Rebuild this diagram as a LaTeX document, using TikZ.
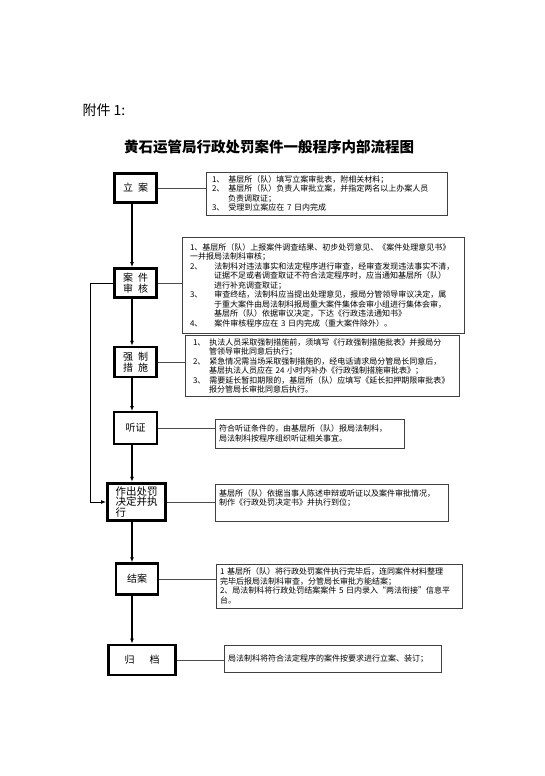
\documentclass[tikz,border=0pt]{standalone}
\usepackage{fontspec}
\setmainfont{Noto Sans CJK SC}
\usepackage{xcolor}
\usetikzlibrary{arrows.meta, positioning, calc}
\newcommand{\indnt}{\hspace*{2em}}
\newcommand{\indnw}{\hspace*{3em}}
\tikzset{
    stage/.style={rectangle, draw=black, line width=2.8pt, fill=white,
                  inner sep=2pt, align=center, font=\fontsize{10}{10.5}\selectfont},
    note/.style={rectangle, draw=black!75, line width=0.7pt, fill=white,
                 inner xsep=4pt, inner ysep=3pt, align=left,
                 font=\fontsize{8}{9.5}\selectfont},
    arrow/.style={-{Latex[length=5pt, width=4pt]}, line width=1.2pt, draw=black},
    link/.style={line width=0.7pt, draw=black!70}
}

\begin{document}
\begin{tikzpicture}[x=1pt, y=-1pt]
  \path[use as bounding box, fill=white] (0,0) rectangle (544,776);

  % --- Heading ---
  \node[anchor=west, font=\fontsize{14}{16}\selectfont] (annex) at (79,110) {附件 1:};
  \node[font=\fontsize{14.5}{16}\selectfont\bfseries] (title) at (269,147)
        {黄石运管局行政处罚案件一般程序内部流程图};

  % --- Stages (left column) ---
  \coordinate (trunk) at (132,0);
  \node[stage, minimum width=42pt, minimum height=29pt] (lian) at (135.5,188)
        {立\hspace{0.5em}案};
  \node[stage, minimum width=42pt, minimum height=29pt] (shenhe) at (135.5,283)
        {案\hspace{0.5em}件\\审\hspace{0.5em}核};
  \node[stage, line width=2.5pt, minimum width=42pt, minimum height=30pt] (qiangzhi) at (135.5,362)
        {强\hspace{0.5em}制\\措\hspace{0.5em}施};
  \node[stage, line width=2pt, minimum width=43pt, minimum height=32pt] (tingzheng) at (135.5,428)
        {听证};
  \node[stage, minimum width=58pt, minimum height=37pt, inner ysep=3.5pt, align=left,
        font=\fontsize{10.5}{10.5}\selectfont] (zuochu) at (136.5,502)
        {作出处罚\\决定并执\\行};
  \node[stage, line width=2.5pt, minimum width=42pt, minimum height=31pt] (jiean) at (137,579)
        {结案};
  \node[stage, minimum width=67pt, minimum height=30pt] (guidang) at (142,660)
        {归\hspace{1.5em}档};

  % --- Notes (right column) ---
  \node[note, inner xsep=6pt, text width=229pt, minimum height=43pt] (n1) at (326.5,193.5)
        {1、\hspace{0.5em}基层所（队）填写立案审批表，附相关材料；\\
         2、\hspace{0.5em}基层所（队）负责人审批立案，并指定两名以上办案人员\\
         \indnt 负责调取证；\\
         3、\hspace{0.5em}受理到立案应在 7 日内完成};
  \node[note, inner xsep=8pt, text width=266pt, minimum height=96pt] (n2) at (323,285)
        {1、基层所（队）上报案件调查结果、初步处罚意见、《案件处理意见书》\\
         一并报局法制科审核；\\
         2、\hspace{1.5em}法制科对违法事实和法定程序进行审查，经审查发现违法事实不清，\\
         \indnw 证据不足或者调查取证不符合法定程序时，应当通知基层所（队）\\
         \indnw 进行补充调查取证；\\
         3、\hspace{1.5em}审查终结，法制科应当提出处理意见，报局分管领导审议决定，属\\
         \indnw 于重大案件由局法制科报局重大案件集体会审小组进行集体会审，\\
         \indnw 基层所（队）依据审议决定，下达《行政违法通知书》\\
         4、\hspace{1.5em}案件审核程序应在 3 日内完成（重大案件除外）。};
  \node[note, inner xsep=8pt, text width=258pt, minimum height=58pt] (n3) at (322,366)
        {1、\hspace{0.5em}执法人员采取强制措施前，须填写《行政强制措施批表》并报局分\\
         \indnt 管领导审批同意后执行；\\
         2、\hspace{0.5em}紧急情况需当场采取强制措施的，经电话请求局分管局长同意后，\\
         \indnt 基层执法人员应在 24 小时内补办《行政强制措施审批表》；\\
         3、\hspace{0.5em}需要延长暂扣期限的，基层所（队）应填写《延长扣押期限审批表》\\
         \indnt 报分管局长审批同意后执行。};
  \node[note, text width=181pt, minimum height=29pt] (n4) at (309.5,433.5)
        {符合听证条件的，由基层所（队）报局法制科，\\
         局法制科按程序组织听证相关事宜。};
  \node[note, text width=225pt, minimum height=37pt] (n5) at (331.5,502.5)
        {基层所（队）依据当事人陈述申辩或听证以及案件审批情况，\\
         制作《行政处罚决定书》并执行到位；\\ \mbox{}};
  \node[note, text width=238pt, minimum height=44pt] (n6) at (339,586)
        {1 基层所（队）将行政处罚案件执行完毕后，连同案件材料整理\\
         完毕后报局法制科审查，分管局长审批方能结案；\\
         2、局法制科将行政处罚结案案件 5 日内录入“两法衔接”信息平\\
         台。};
  \node[note, text width=209pt, minimum height=27pt] (n7) at (332.5,658.5)
        {局法制科将符合法定程序的案件按要求进行立案、装订；};

  % --- Arrows ---
  \draw[arrow] (lian.south -| trunk)      -- (shenhe.north -| trunk);
  \draw[arrow] (shenhe.south -| trunk)    -- (qiangzhi.north -| trunk);
  \draw[arrow] (qiangzhi.south -| trunk)  -- (tingzheng.north -| trunk);
  \draw[arrow] (tingzheng.south -| trunk) -- (zuochu.north -| trunk);
  \draw[arrow] (zuochu.south -| trunk)    -- (jiean.north -| trunk);
  \draw[arrow] (jiean.south -| trunk)     -- (guidang.north -| trunk);
  \draw[arrow, line width=1pt] (shenhe.west) -- ++(-23,0) |- (zuochu.west);

  % --- Links to notes ---
  \draw[link] (lian.east)      -- (lian.east -| n1.west);
  \draw[link] (shenhe.east)    -- (shenhe.east -| n2.west);
  \draw[link] (qiangzhi.east)  -- (qiangzhi.east -| n3.west);
  \draw[link] (tingzheng.east) -- (tingzheng.east -| n4.west);
  \draw[link] (zuochu.east)    -- (zuochu.east -| n5.west);
  \draw[link] (jiean.east)     -- (jiean.east -| n6.west);
  \draw[link] (guidang.east)   -- (guidang.east -| n7.west);

\end{tikzpicture}
\end{document}
